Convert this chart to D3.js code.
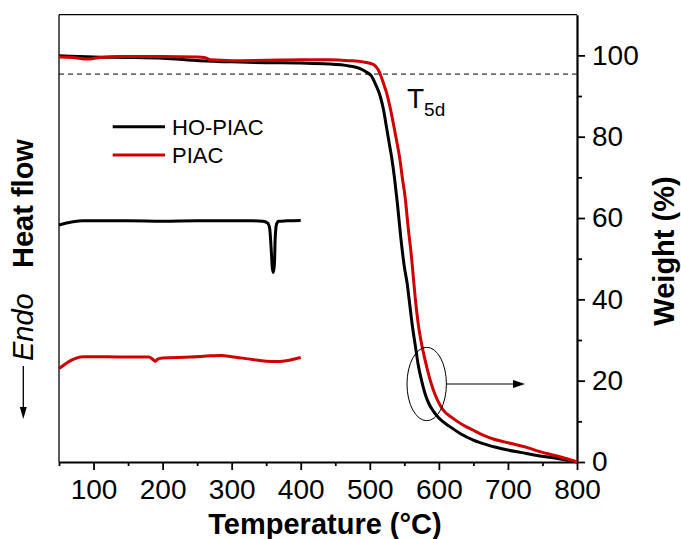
<!DOCTYPE html>
<html>
<head>
<meta charset="utf-8">
<script src="https://cdn.jsdelivr.net/npm/d3@7"></script>
<style>
  body { margin: 0; background: #fff; }
  svg { font-family: Arial, "Liberation Sans", sans-serif; }
</style>
</head>
<body>
<div id="chart"></div>
<script>
// TGA data (temperature in °C, weight in %)
var tgaHoTemp = [50, 100, 150, 200, 254, 300, 350, 400, 440, 470, 485, 495, 502, 508, 515, 520, 524, 528, 532, 536, 540, 545, 550, 554, 558, 562, 566, 570, 575, 580, 586, 592, 600, 616, 632, 650, 670, 698, 720, 746, 770, 785, 800];
var tgaHoWeight = [99.9, 99.6, 99.5, 99.3, 98.7, 98.4, 98.2, 98.1, 97.9, 97.4, 96.8, 95.9, 95.0, 93.0, 90.0, 86.5, 82.5, 78.5, 74.5, 69.5, 63.5, 55, 48, 44, 38.5, 33, 28.5, 24, 20, 16.8, 14.2, 12.5, 10.8, 8.7, 6.9, 5.4, 4.2, 3.0, 2.3, 1.5, 0.9, 0.5, 0];

var tgaPiacTemp = [50, 70, 90, 110, 140, 200, 250, 262, 270, 300, 350, 400, 440, 470, 490, 505, 512, 516, 520, 524.4, 529, 534, 539, 543.7, 547, 551, 556, 560, 563, 566, 570, 575, 580, 586, 592, 598, 606, 620, 635, 650, 664, 680, 703, 727, 745, 756, 775, 795, 800];
var tgaPiacWeight = [99.6, 99.5, 99.1, 99.5, 99.7, 99.7, 99.6, 99.4, 98.9, 98.7, 98.8, 98.9, 98.9, 98.7, 98.4, 97.8, 96.5, 95.0, 93.0, 90.7, 87.5, 83.3, 78.8, 74.3, 70, 65.3, 57, 51, 45.5, 40, 34.1, 29, 25.1, 21, 17.7, 15.2, 12.8, 10.8, 9.1, 7.8, 6.6, 5.6, 4.6, 3.6, 2.6, 2.1, 1.3, 0.3, 0];

// DSC data (heat flow, arbitrary units, offset for display)
var dscHoTemp = [50, 85, 150, 200, 250, 330, 345, 352, 355, 357, 359, 360.5, 362, 363, 365, 368, 380, 400];
var dscHoFlow = [58.3, 59.3, 59.3, 59.2, 59.3, 59.3, 59.2, 58.8, 57.5, 53, 47.5, 46.6, 49, 55, 58.5, 59.2, 59.3, 59.4];

var dscPiacTemp = [50, 85, 120, 150, 180, 186, 189, 193, 200, 240, 270, 285, 300, 330, 350, 365, 385, 400];
var dscPiacFlow = [23.0, 25.9, 25.9, 25.8, 25.8, 25.2, 24.8, 25.3, 25.6, 25.8, 26.1, 26.2, 25.9, 25.2, 24.8, 24.7, 25.1, 25.7];

var xTicks = [100, 200, 300, 400, 500, 600, 700, 800];
var xMinorTicks = [50, 150, 250, 350, 450, 550, 650, 750];
var yTicks = [0, 20, 40, 60, 80, 100];
var yMinorTicks = [10, 30, 50, 70, 90];
var t5dWeight = 95.4;

var seriesNames = ["HO-PIAC", "PIAC"];
var seriesColors = ["#000000", "#d00000"];

// dimensions (plot box in page pixels)
var width = 681, height = 539;
var plotL = 59, plotR = 577, plotT = 14.7, plotB = 462;

var svg = d3.select("#chart")
  .append("svg")
    .attr("width", width)
    .attr("height", height);

var x = d3.scaleLinear().domain([50, 800]).range([plotL, plotR]);
var y = d3.scaleLinear().domain([0, 110]).range([plotB, plotT]);
var yHeat = d3.scaleLinear().domain([0, 110]).range([plotB, plotT]);

// frame (left and top thin)
svg.append("line").attr("x1", plotL).attr("x2", plotL).attr("y1", plotT).attr("y2", plotB)
  .attr("stroke", "#000").attr("stroke-width", 1.3);
svg.append("line").attr("x1", plotL).attr("x2", plotR).attr("y1", plotT).attr("y2", plotT)
  .attr("stroke", "#000").attr("stroke-width", 1.3);

// bottom axis
var xAxis = svg.append("g")
  .attr("transform", "translate(0," + plotB + ")")
  .call(d3.axisBottom(x).tickValues(xTicks).tickSize(8).tickPadding(9).tickSizeOuter(0));
xAxis.select(".domain").attr("stroke-width", 2);
xAxis.selectAll(".tick line").attr("stroke-width", 1.8);
xAxis.selectAll("text").style("font-size", "28px").attr("fill", "#000");

svg.append("g")
  .attr("transform", "translate(0," + plotB + ")")
  .call(d3.axisBottom(x).tickValues(xMinorTicks).tickSize(4).tickFormat(""))
  .call(g => g.select(".domain").remove())
  .selectAll(".tick line").attr("stroke-width", 1.8);

// right axis
var yAxis = svg.append("g")
  .attr("transform", "translate(" + plotR + ",0)")
  .call(d3.axisRight(y).tickValues(yTicks).tickSize(8).tickPadding(7).tickSizeOuter(0));
yAxis.select(".domain").attr("stroke-width", 2.2);
yAxis.selectAll(".tick line").attr("stroke-width", 1.8);
yAxis.selectAll("text").style("font-size", "28px").attr("fill", "#000");

svg.append("g")
  .attr("transform", "translate(" + plotR + ",0)")
  .call(d3.axisRight(y).tickValues(yMinorTicks).tickSize(5).tickFormat(""))
  .call(g => g.select(".domain").remove())
  .selectAll(".tick line").attr("stroke-width", 1.8);

// T5d dashed line
svg.append("line")
  .attr("x1", plotL).attr("x2", plotR)
  .attr("y1", y(t5dWeight)).attr("y2", y(t5dWeight))
  .attr("stroke", "#000").attr("stroke-width", 1)
  .attr("stroke-dasharray", "5,4");

var tgaLine = d3.line()
  .x(d => x(d[0]))
  .y(d => y(d[1]))
  .curve(d3.curveMonotoneX);

var dscLine = d3.line()
  .x(d => x(d[0]))
  .y(d => yHeat(d[1]))
  .curve(d3.curveMonotoneX);

var tgaData = [d3.zip(tgaHoTemp, tgaHoWeight), d3.zip(tgaPiacTemp, tgaPiacWeight)];
var dscData = [d3.zip(dscHoTemp, dscHoFlow), d3.zip(dscPiacTemp, dscPiacFlow)];

tgaData.forEach(function(d, i) {
  svg.append("path").datum(d)
    .attr("d", tgaLine)
    .attr("fill", "none")
    .attr("stroke", seriesColors[i])
    .attr("stroke-width", 3);
});

dscData.forEach(function(d, i) {
  svg.append("path").datum(d)
    .attr("d", dscLine)
    .attr("fill", "none")
    .attr("stroke", seriesColors[i])
    .attr("stroke-width", 3);
});

// legend
seriesNames.forEach(function(name, i) {
  var ly = 126.7 + i * 28.3;
  svg.append("line")
    .attr("x1", 112.7).attr("x2", 165)
    .attr("y1", ly).attr("y2", ly)
    .attr("stroke", seriesColors[i]).attr("stroke-width", 3);
  svg.append("text")
    .attr("x", 172).attr("y", ly + 8)
    .style("font-size", "22px")
    .text(name);
});

// T5d label
var t5 = svg.append("text").attr("x", 407).attr("y", 108).style("font-size", "28px");
t5.append("tspan").text("T");
t5.append("tspan").attr("dy", 8).style("font-size", "19px").text("5d");

// ellipse + arrow
svg.append("ellipse")
  .attr("cx", 426.7).attr("cy", 384)
  .attr("rx", 19.7).attr("ry", 36.7)
  .attr("fill", "none").attr("stroke", "#000").attr("stroke-width", 1);
svg.append("line")
  .attr("x1", 446.4).attr("x2", 515).attr("y1", 384).attr("y2", 384)
  .attr("stroke", "#000").attr("stroke-width", 1.2);
svg.append("path")
  .attr("d", "M525,384 L513,380 L513,388 Z")
  .attr("fill", "#000");

// axis titles
svg.append("text")
  .attr("x", (plotL + plotR) / 2 + 7).attr("y", 534)
  .attr("text-anchor", "middle")
  .style("font-size", "29px").style("font-weight", "bold")
  .text("Temperature (°C)");

svg.append("text")
  .attr("transform", "translate(674,251) rotate(-90)")
  .attr("text-anchor", "middle")
  .style("font-size", "29px").style("font-weight", "bold")
  .text("Weight (%)");

// left heat flow label
svg.append("text")
  .attr("transform", "translate(33,268) rotate(-90)")
  .style("font-size", "29px").style("font-weight", "bold")
  .text("Heat flow");
svg.append("text")
  .attr("transform", "translate(33,361) rotate(-90)")
  .style("font-size", "29px").style("font-style", "italic")
  .text("Endo");
svg.append("line")
  .attr("x1", 23.3).attr("x2", 23.3).attr("y1", 366).attr("y2", 410)
  .attr("stroke", "#000").attr("stroke-width", 1.3);
svg.append("path")
  .attr("d", "M23.3,419 L19.8,407 L26.8,407 Z")
  .attr("fill", "#000");
</script>
</body>
</html>
